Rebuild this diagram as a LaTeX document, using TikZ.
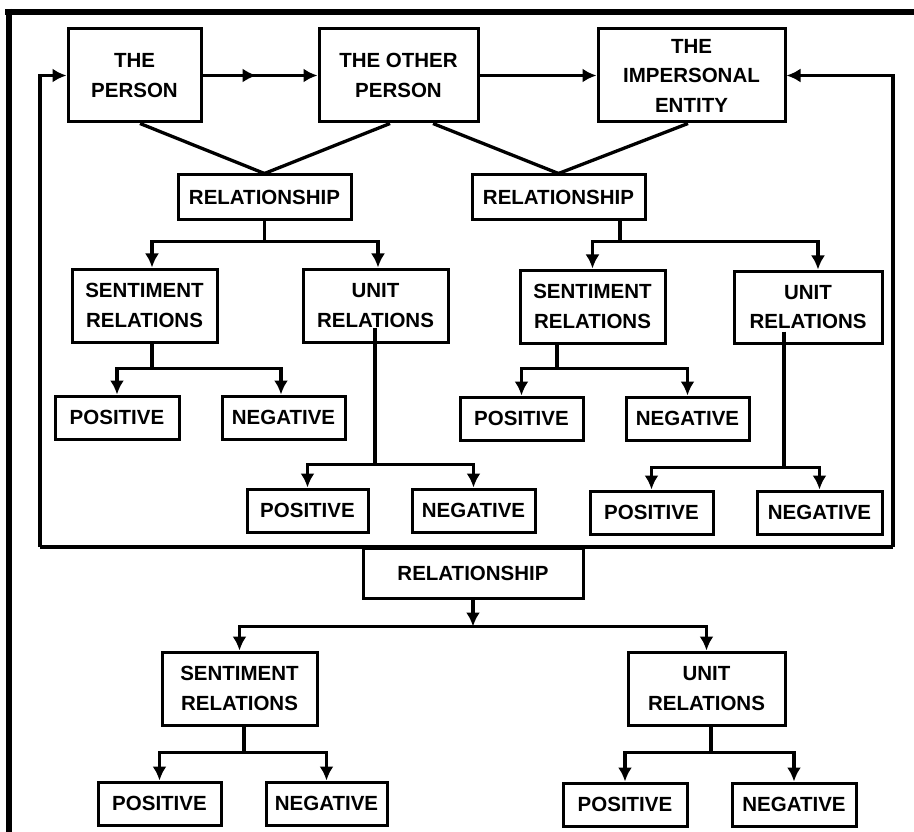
\documentclass[tikz,border=0pt]{standalone}
\usepackage{fontspec}
\setmainfont{Liberation Sans}
\usetikzlibrary{arrows.meta,decorations.markings}
\begin{document}
\begin{tikzpicture}[
  x=1pt, y=-1pt,
  box/.style={draw, line width=3pt, align=center, inner sep=0pt,
    font=\fontsize{20.5}{29.5}\selectfont\bfseries},
  conn/.style={line width=3.3pt},
  arr/.style={conn, -{Latex[length=14pt,width=14pt]}},
  midarrow/.style={decoration={markings, mark=at position 0.47 with {\arrow{Latex[length=14pt,width=14pt]}}}, postaction={decorate}}
]
\useasboundingbox (0,0) rectangle (914,832);
% outer frame
\draw[line width=6pt] (5,12) -- (914,12);
\draw[line width=6pt] (9,9) -- (9,832);

% top row
\node[box, minimum width=133pt, minimum height=93pt] (person) at (134.5,75.5) {THE\\PERSON};
\node[box, minimum width=159pt, minimum height=93pt] (other) at (398.5,75.5) {THE OTHER\\PERSON};
\node[box, minimum width=187pt, minimum height=93pt] (imp) at (691.5,75.5) {THE\\IMPERSONAL\\ENTITY};

% relationships
\node[box, minimum width=173pt, minimum height=45pt] (rel1) at (264.5,197.5) {RELATIONSHIP};
\node[box, minimum width=173pt, minimum height=45pt] (rel2) at (558.5,197.5) {RELATIONSHIP};
\node[box, minimum width=220pt, minimum height=50pt] (rel3) at (473,573) {RELATIONSHIP};

% tree 1
\node[box, minimum width=145pt, minimum height=73pt] (sent1) at (144.5,305.5) {SENTIMENT\\RELATIONS};
\node[box, minimum width=145pt, minimum height=73pt] (unit1) at (375.5,305.5) {UNIT\\RELATIONS};
\node[box, minimum width=124pt, minimum height=43pt] (pos1) at (117,417.5) {POSITIVE};
\node[box, minimum width=123pt, minimum height=43pt] (neg1) at (283.5,417.5) {NEGATIVE};
\node[box, minimum width=121pt, minimum height=43pt] (pos2) at (307.5,510.5) {POSITIVE};
\node[box, minimum width=123pt, minimum height=43pt] (neg2) at (473.5,510.5) {NEGATIVE};

% tree 2
\node[box, minimum width=145pt, minimum height=73pt] (sent2) at (592.5,306.5) {SENTIMENT\\RELATIONS};
\node[box, minimum width=148pt, minimum height=72pt] (unit2) at (808,307) {UNIT\\RELATIONS};
\node[box, minimum width=123pt, minimum height=43pt] (pos3) at (521.5,418.5) {POSITIVE};
\node[box, minimum width=123pt, minimum height=43pt] (neg3) at (687.5,418.5) {NEGATIVE};
\node[box, minimum width=123pt, minimum height=43pt] (pos4) at (651.5,512.5) {POSITIVE};
\node[box, minimum width=125pt, minimum height=43pt] (neg4) at (819.5,512.5) {NEGATIVE};

% tree 3
\node[box, minimum width=155pt, minimum height=73pt] (sent3) at (239.5,688.5) {SENTIMENT\\RELATIONS};
\node[box, minimum width=157pt, minimum height=73pt] (unit3) at (706.5,688.5) {UNIT\\RELATIONS};
\node[box, minimum width=123pt, minimum height=43pt] (pos5) at (159.5,803.5) {POSITIVE};
\node[box, minimum width=121pt, minimum height=43pt] (neg5) at (326.5,803.5) {NEGATIVE};
\node[box, minimum width=124pt, minimum height=43pt] (pos6) at (625,804.5) {POSITIVE};
\node[box, minimum width=124pt, minimum height=43pt] (neg6) at (794,804.5) {NEGATIVE};

% top arrows
\draw[arr, midarrow] (person.east) -- (other.west);
\draw[arr] (other.east) -- (imp.west);

% loops
\coordinate (lb) at (40,547);
\coordinate (rb) at (893,547);
\draw[conn] (lb) -- (rb);
\draw[arr] (lb) |- (person.west);
\draw[arr] (rb) |- (imp.east);

% lines into relationships
\draw[conn] ([xshift=5.5pt]person.south) -- (rel1.north);
\draw[conn] ([xshift=-8.5pt]other.south) -- (rel1.north);
\draw[conn] ([xshift=34.5pt]other.south) -- (rel2.north);
\draw[conn] ([xshift=-3.5pt]imp.south) -- (rel2.north);

% tree 1 connectors
\draw[conn] (rel1.south) -- ++(0,20) coordinate (b1);
\draw[arr] (b1) -| ([xshift=7.5pt]sent1.north);
\draw[arr] (b1) -| ([xshift=2.5pt]unit1.north);
\draw[conn] ([xshift=7.5pt]sent1.south) -- ++(0,25) coordinate (b2);
\draw[arr] (b2) -| (pos1.north);
\draw[arr] (b2) -| ([xshift=-2.5pt]neg1.north);
\draw[conn] ([xshift=-0.5pt,yshift=16pt]unit1.south) -- ++(0,137) coordinate (b3);
\draw[arr] (b3) -| (pos2.north);
\draw[arr] (b3) -| (neg2.north);

% tree 2 connectors
\draw[conn] ([xshift=61.5pt]rel2.south) -- ++(0,20) coordinate (b4);
\draw[arr] (b4) -| (sent2.north);
\draw[arr] (b4) -| ([xshift=10pt]unit2.north);
\draw[conn] ([xshift=-35.5pt]sent2.south) -- ++(0,24) coordinate (b5);
\draw[arr] (b5) -| (pos3.north);
\draw[arr] (b5) -| (neg3.north);
\draw[conn] ([xshift=-24pt,yshift=13pt]unit2.south) -- ++(0,136) coordinate (b6);
\draw[arr] (b6) -| (pos4.north);
\draw[arr] (b6) -| (neg4.north);

% tree 3 connectors
\draw[arr] (rel3.south) -- ++(0,27) coordinate (b7);
\draw[arr] (b7) -| (sent3.north);
\draw[arr] (b7) -| (unit3.north);
\draw[conn] ([xshift=4.5pt]sent3.south) -- ++(0,26) coordinate (b8);
\draw[arr] (b8) -| (pos5.north);
\draw[arr] (b8) -| (neg5.north);
\draw[conn] ([xshift=4.5pt]unit3.south) -- ++(0,26) coordinate (b9);
\draw[arr] (b9) -| (pos6.north);
\draw[arr] (b9) -| (neg6.north);
\end{tikzpicture}
\end{document}
